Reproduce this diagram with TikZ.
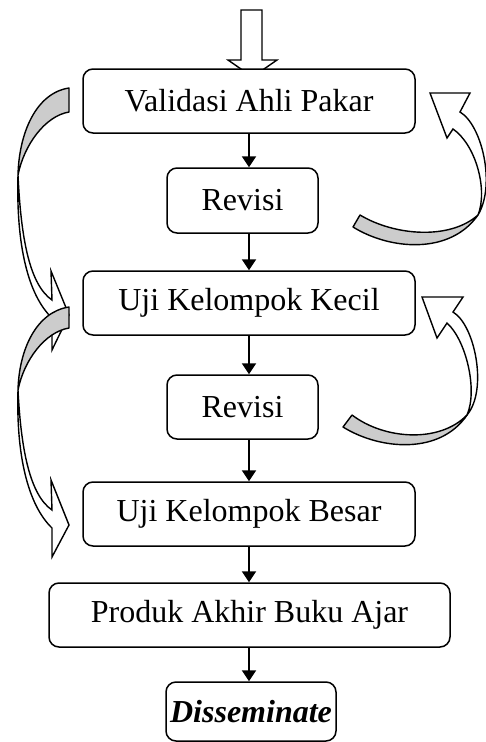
\documentclass[tikz,border=0pt]{standalone}
\usepackage{fontspec}
\setmainfont{Liberation Serif}
\usetikzlibrary{arrows.meta}
\definecolor{backgray}{RGB}{204,204,204}
\begin{document}
\begin{tikzpicture}[x=1pt,y=-1pt,
  procbox/.style={draw, line width=1.5pt, rounded corners=10pt, fill=white, inner sep=0pt,
    font=\fontsize{32}{38}\selectfont},
  conn/.style={line width=2.3pt, -{Triangle[width=14pt,length=11pt]}},
  frontpart/.style={draw, line width=1.4pt, fill=white, line join=miter},
  backpart/.style={draw, line width=1.4pt, fill=backgray, line join=round}]
\useasboundingbox (0,0) rectangle (486,742);

% top hollow block arrow
\draw[frontpart] (241,10) -- (262,10) -- (262,60) -- (277,60) -- (252.5,77) -- (228,60) -- (241,60) -- cycle;

% boxes
\node[procbox, minimum width=332pt, minimum height=64pt] (B1) at (249,101) {Validasi Ahli Pakar};
\node[procbox, minimum width=151pt, minimum height=65pt] (B2) at (242.5,200.5) {Revisi};
\node[procbox, minimum width=332pt, minimum height=64pt] (B3) at (249,303) {Uji Kelompok Kecil};
\node[procbox, minimum width=151pt, minimum height=64pt] (B4) at (242.5,407) {Revisi};
\node[procbox, minimum width=332pt, minimum height=64pt] (B5) at (249,514) {Uji Kelompok Besar};
\node[procbox, minimum width=401pt, minimum height=64pt] (B6) at (249.5,615) {Produk Akhir Buku Ajar};
\node[procbox, minimum width=170pt, minimum height=59pt] (B7) at (251,711.5) {\textbf{\textit{Disseminate}}};

% connectors
\draw[conn] (B1.south) -- (B1.south |- B2.north);
\draw[conn] (B1.south |- B2.south) -- (B3.north);
\draw[conn] (B3.south) -- (B3.south |- B4.north);
\draw[conn] (B3.south |- B4.south) -- (B5.north);
\draw[conn] (B5.south) -- (B5.south |- B6.north);
\draw[conn] (B5.south |- B6.south) -- (B5.south |- B7.north);

% left curved arrow 1
\draw[backpart] (69,88) .. controls (36,93) and (19,133) .. (18,175)
  .. controls (24,145) and (45,116) .. (69,112) -- cycle;
\draw[frontpart] (18,175) .. controls (16,245) and (28,295) .. (52,318)
  -- (52,350) -- (69,315) -- (51,271) -- (52,300)
  .. controls (30,285) and (21,240) .. (18,175) -- cycle;

% left curved arrow 2
\draw[backpart] (69,307) .. controls (36,312) and (19,350) .. (18,390)
  .. controls (24,360) and (45,332) .. (69,328) -- cycle;
\draw[frontpart] (18,390) .. controls (16,455) and (28,505) .. (52,528)
  -- (52,557) -- (69,525) -- (51,480) -- (52,510)
  .. controls (30,495) and (21,450) .. (18,390) -- cycle;

% right curved arrow 1
\draw[backpart] (353,227) .. controls (390,250) and (450,255) .. (478,215)
  .. controls (450,240) and (395,236) .. (360,215) -- cycle;
\draw[frontpart] (478,215) .. controls (496,185) and (482,125) .. (460,112)
  -- (470,93) -- (430,93) -- (447,138) -- (453,129)
  .. controls (476,145) and (488,190) .. (478,215) -- cycle;

% right curved arrow 2
\draw[backpart] (343,427) .. controls (380,450) and (440,455) .. (467,415)
  .. controls (440,443) and (385,440) .. (352,415) -- cycle;
\draw[frontpart] (467,415) .. controls (488,390) and (475,325) .. (453,312)
  -- (463,297) -- (422,297) -- (437,338) -- (447,323)
  .. controls (466,340) and (478,390) .. (467,415) -- cycle;
\end{tikzpicture}
\end{document}
